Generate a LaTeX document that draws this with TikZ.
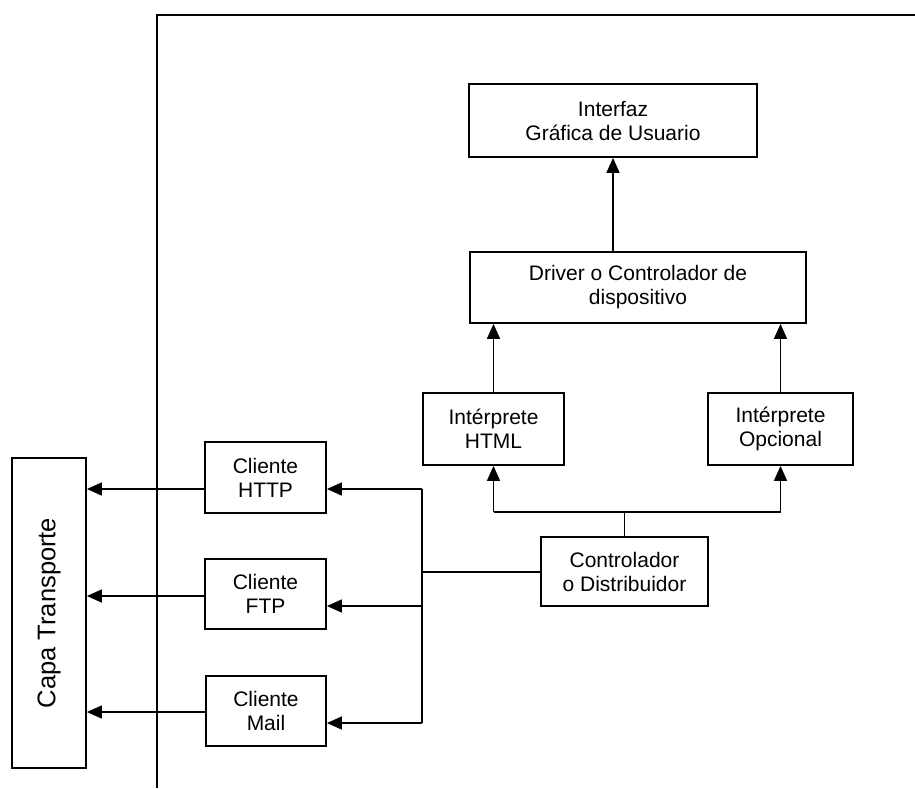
\documentclass[tikz,border=0pt]{standalone}
\usepackage{fontspec}
\setmainfont{Liberation Sans}
\usetikzlibrary{arrows.meta}
\tikzset{
  box/.style={draw, line width=1.8pt, rectangle, align=center, inner sep=0pt,
    font=\fontsize{21}{24}\selectfont},
  arr/.style={line width=1.6pt, -{Triangle[length=15pt,width=13pt]}},
  ln/.style={line width=1.6pt},
  frame/.style={line width=2pt}
}
\begin{document}
\begin{tikzpicture}[x=1pt,y=-1pt]
\useasboundingbox (0,0) rectangle (915,788);
% frame
\coordinate (fa) at (157,788);
\coordinate (fb) at (157,15);
\coordinate (fc) at (915,15);
\draw[frame] (fa) -- (fb) -- (fc);
% nodes
\node[box, minimum width=288pt, minimum height=73pt] (gui) at (613,120.5) {Interfaz\\Gráfica de Usuario};
\node[box, minimum width=336pt, minimum height=71pt] (drv) at (638,287.5) {Driver o Controlador de\\dispositivo};
\node[box, minimum width=141pt, minimum height=72pt] (html) at (493.5,429) {Intérprete\\HTML};
\node[box, minimum width=145pt, minimum height=72pt] (opc) at (780.5,429) {Intérprete\\Opcional};
\node[box, minimum width=167pt, minimum height=69pt] (ctl) at (624.5,571.5) {Controlador\\o Distribuidor};
\node[box, minimum width=121pt, minimum height=71pt] (http) at (265.5,477.5) {Cliente\\HTTP};
\node[box, minimum width=121pt, minimum height=70pt] (ftp) at (265.5,594) {Cliente\\FTP};
\node[box, minimum width=120pt, minimum height=70pt] (mail) at (266,711) {Cliente\\Mail};
\node[box, minimum width=74pt, minimum height=310pt] (capa) at (49,613) {};
\node[rotate=90, font=\fontsize{25.5}{28}\selectfont] (capat) at (capa.center) {Capa Transporte};
% upper connectors
\draw[arr] (gui.south |- drv.north) -- (gui.south);
\draw[arr] (html.north) -- (html.north |- drv.south);
\draw[arr] (opc.north) -- (opc.north |- drv.south);
% controller to interpreters
\coordinate (j) at (624.5,512);
\draw[ln] (ctl.north) -- (j);
\draw[ln] (html.south |- j) -- (opc.south |- j);
\draw[arr] (html.south |- j) -- (html.south);
\draw[arr] (opc.south |- j) -- (opc.south);
% controller to clients
\coordinate (bt) at (422,489);
\coordinate (bm) at (422,572);
\coordinate (bb) at (422,723);
\draw[ln] (ctl.west |- bm) -- (bm);
\draw[ln] (bt) -- (bb);
\draw[arr] (bt) -- (bt -| http.east);
\draw[arr] (422,606) -- ([yshift=-12pt]ftp.east);
\draw[arr] (bb) -- (bb -| mail.east);
% clients to transport
\draw[arr] ([yshift=-11.5pt]http.west) -- ([yshift=-11.5pt]http.west -| capa.east);
\draw[arr] ([yshift=-2pt]ftp.west) -- ([yshift=-2pt]ftp.west -| capa.east);
\draw[arr] ([yshift=-1pt]mail.west) -- ([yshift=-1pt]mail.west -| capa.east);
\end{tikzpicture}
\end{document}
